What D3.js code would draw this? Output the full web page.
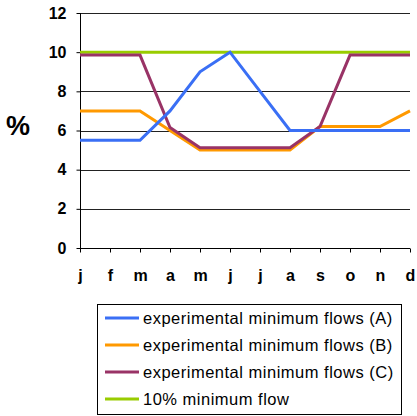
<!DOCTYPE html>
<html>
<head>
<meta charset="utf-8">
<script src="https://cdn.jsdelivr.net/npm/d3@7"></script>
<style>
  body { margin: 0; background: #fff; }
  svg { display: block; font-family: "Liberation Sans", Arial, sans-serif; }
</style>
</head>
<body>
<svg id="chart" width="417" height="416"></svg>
<script>
// Monthly minimum flow scenarios (% of mean flow)
const months = ["j", "f", "m", "a", "m", "j", "j", "a", "s", "o", "n", "d"];
const flowsA = [5.5, 5.5, 5.5, 7, 9, 10, 8, 6, 6, 6, 6, 6];
const flowsB = [7, 7, 7, 6, 5, 5, 5, 5, 6.2, 6.2, 6.2, 7];
const flowsC = [9.85, 9.85, 9.85, 6.15, 5.12, 5.12, 5.12, 5.12, 6.2, 9.85, 9.85, 9.85];
const flows10 = [10, 10, 10, 10, 10, 10, 10, 10, 10, 10, 10, 10];
const yTicks = [0, 2, 4, 6, 8, 10, 12];
const seriesNames = [
  "experimental minimum flows (A)",
  "experimental minimum flows (B)",
  "experimental minimum flows (C)",
  "10% minimum flow"
];
const seriesColors = ["#3a6ff5", "#ff9900", "#993366", "#99cc00"];
const seriesValues = [flowsA, flowsB, flowsC, flows10];

const svg = d3.select("#chart");
const plotLeft = 80, plotRight = 410, plotTop = 13, plotBottom = 248;

const x = d3.scalePoint().domain(d3.range(months.length)).range([plotLeft, plotRight]);
const y = d3.scaleLinear().domain([0, 12]).range([plotBottom, plotTop]);

// Horizontal grid lines
svg.append("g")
  .selectAll("line")
  .data(yTicks.filter(d => d > 0))
  .join("line")
  .attr("x1", plotLeft).attr("x2", plotRight)
  .attr("y1", d => Math.round(y(d)) + 0.5).attr("y2", d => Math.round(y(d)) + 0.5)
  .attr("stroke", "#222").attr("stroke-width", 1);

// Y axis
const yAxis = svg.append("g")
  .attr("transform", `translate(${plotLeft + 0.5},0)`)
  .call(d3.axisLeft(y).tickValues(yTicks).tickSize(4).tickPadding(10).tickFormat(d3.format("d")));
yAxis.select(".domain").attr("stroke", "#000").attr("d", `M0,${y(12)}V${y(0)}`);
yAxis.selectAll(".tick line").attr("stroke", "#000");
yAxis.selectAll("text")
  .attr("font-size", 16).attr("font-weight", "bold").attr("fill", "#000")
  .attr("font-family", "Liberation Sans, Arial, sans-serif");

// X axis
const xAxis = svg.append("g")
  .attr("transform", `translate(0,${Math.round(y(0)) + 0.5})`)
  .call(d3.axisBottom(x).tickSize(4).tickPadding(17).tickFormat(i => months[i]));
xAxis.select(".domain").attr("stroke", "#000").attr("d", `M${plotLeft},0H${plotRight}`);
xAxis.selectAll(".tick line").attr("stroke", "#000");
xAxis.selectAll("text")
  .attr("font-size", 16).attr("font-weight", "bold").attr("fill", "#000")
  .attr("font-family", "Liberation Sans, Arial, sans-serif");

// Y axis title
svg.append("text")
  .attr("x", 18).attr("y", 135)
  .attr("text-anchor", "middle")
  .attr("font-size", 27).attr("font-weight", "bold")
  .text("%");

// Series lines (green drawn first, underneath)
const line = d3.line().x((d, i) => x(i)).y(d => y(d));
[3, 1, 2, 0].forEach(k => {
  svg.append("path")
    .datum(seriesValues[k])
    .attr("d", line)
    .attr("fill", "none")
    .attr("stroke", seriesColors[k])
    .attr("stroke-width", 3);
});

// Legend
const legend = svg.append("g");
legend.append("rect")
  .attr("x", 97.5).attr("y", 304.5).attr("width", 304).attr("height", 110)
  .attr("fill", "#fff").attr("stroke", "#000").attr("stroke-width", 1);
seriesNames.forEach((name, k) => {
  const ly = 318 + k * 27;
  legend.append("line")
    .attr("x1", 105).attr("x2", 139).attr("y1", ly).attr("y2", ly)
    .attr("stroke", seriesColors[k]).attr("stroke-width", 3);
  legend.append("text")
    .attr("x", 143).attr("y", ly + 6)
    .attr("font-size", 16.5).attr("letter-spacing", 0.5).attr("fill", "#000")
    .text(name);
});
</script>
</body>
</html>
